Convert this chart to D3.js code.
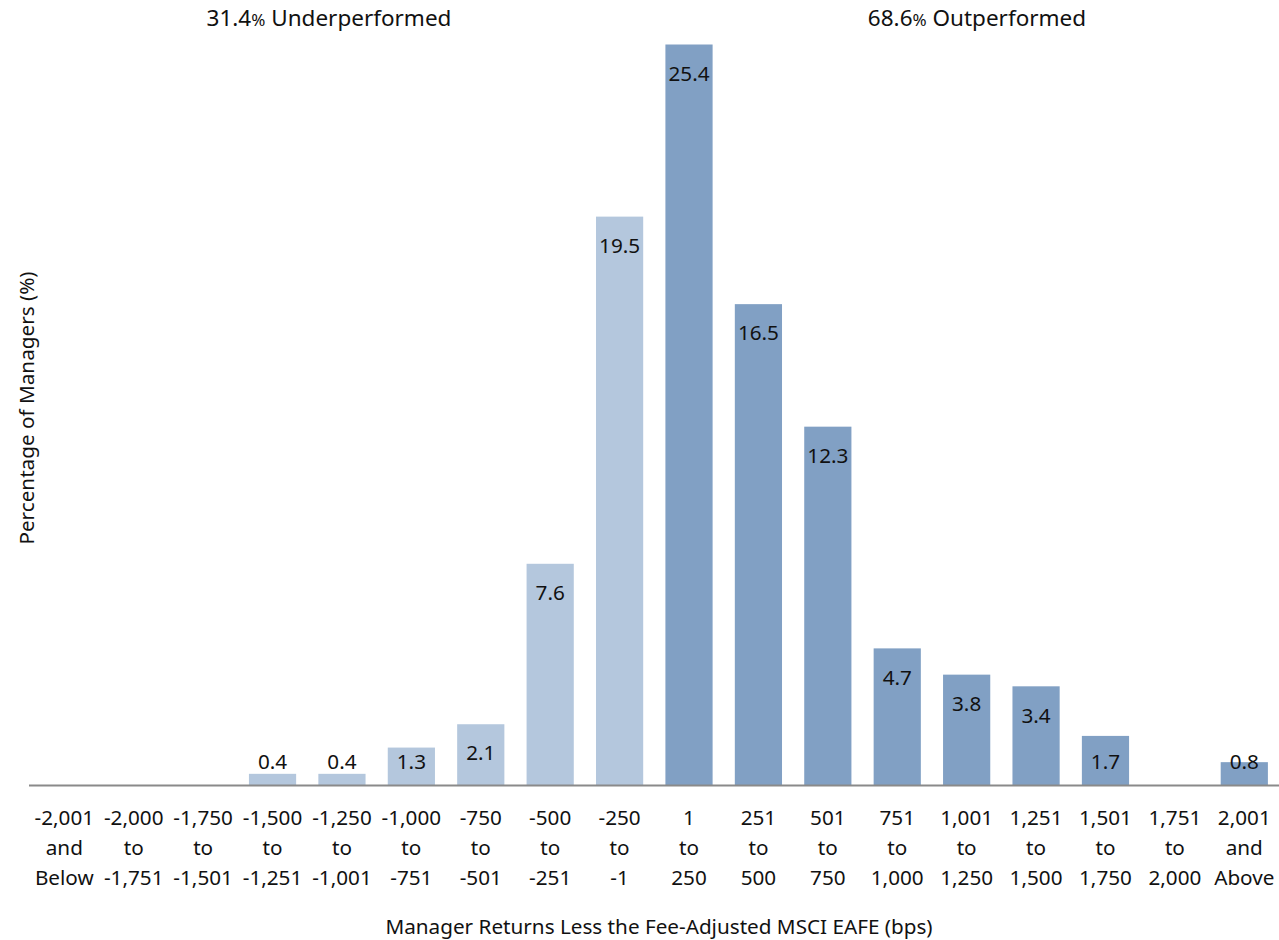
<!DOCTYPE html>
<html>
<head>
<meta charset="utf-8">
<script src="https://cdn.jsdelivr.net/npm/d3@7"></script>
<style>
  html, body { margin: 0; padding: 0; background: #fff; }
  svg text { font-family: "Noto Sans", "Open Sans", sans-serif; fill: #111; }
</style>
</head>
<body>
<svg id="chart" width="1279" height="940"></svg>
<script>
// Excess-return buckets (bps) and share of managers in each
const categories = [
  ["-2,001", "and", "Below"],
  ["-2,000", "to", "-1,751"],
  ["-1,750", "to", "-1,501"],
  ["-1,500", "to", "-1,251"],
  ["-1,250", "to", "-1,001"],
  ["-1,000", "to", "-751"],
  ["-750", "to", "-501"],
  ["-500", "to", "-251"],
  ["-250", "to", "-1"],
  ["1", "to", "250"],
  ["251", "to", "500"],
  ["501", "to", "750"],
  ["751", "to", "1,000"],
  ["1,001", "to", "1,250"],
  ["1,251", "to", "1,500"],
  ["1,501", "to", "1,750"],
  ["1,751", "to", "2,000"],
  ["2,001", "and", "Above"]
];
const values = [null, null, null, 0.4, 0.4, 1.3, 2.1, 7.6, 19.5, 25.4, 16.5, 12.3, 4.7, 3.8, 3.4, 1.7, null, 0.8];
const underperformed = { pct: "31.4", text: " Underperformed" };
const outperformed = { pct: "68.6", text: " Outperformed" };
const xTitle = "Manager Returns Less the Fee-Adjusted MSCI EAFE (bps)";
const yTitle = "Percentage of Managers (%)";

const svg = d3.select("#chart");
const baseY = 785.5;
const topY = 44.5;
const fs = 20.7;

const x = d3.scaleBand()
  .domain(d3.range(categories.length))
  .range([29.6, 1279])
  .paddingInner(0.32)
  .paddingOuter(0.16);

const y = d3.scaleLinear()
  .domain([0, 25.4])
  .range([baseY, topY]);

const lightBlue = "#b4c7dd";
const darkBlue = "#81a0c4";

const bars = svg.append("g");
categories.forEach((c, i) => {
  const v = values[i];
  if (v == null) return;
  bars.append("rect")
    .attr("x", x(i))
    .attr("y", y(v))
    .attr("width", x.bandwidth())
    .attr("height", y(0) - y(v))
    .attr("fill", i < 9 ? lightBlue : darkBlue);
  const ly = Math.min(y(v) + 29, y(0) - 24);
  bars.append("text")
    .attr("x", x(i) + x.bandwidth() / 2)
    .attr("y", ly)
    .attr("dy", "0.35em")
    .attr("text-anchor", "middle")
    .attr("font-size", fs)
    .text(v.toFixed(1));
});

// baseline axis
svg.append("line")
  .attr("x1", 29).attr("x2", 1279)
  .attr("y1", baseY).attr("y2", baseY)
  .attr("stroke", "#8a8a8a")
  .attr("stroke-width", 2);

// three-line category labels
const ticks = svg.append("g");
categories.forEach((c, i) => {
  const t = ticks.append("text")
    .attr("text-anchor", "middle")
    .attr("font-size", fs);
  c.forEach((line, k) => {
    t.append("tspan")
      .attr("x", x(i) + x.bandwidth() / 2)
      .attr("y", 818 + k * 30)
      .attr("dy", "0.35em")
      .text(line);
  });
});

// axis titles
svg.append("text")
  .attr("x", 659).attr("y", 927)
  .attr("dy", "0.35em")
  .attr("text-anchor", "middle")
  .attr("font-size", fs)
  .text(xTitle);

svg.append("text")
  .attr("transform", "translate(27,408) rotate(-90)")
  .attr("dy", "0.35em")
  .attr("text-anchor", "middle")
  .attr("font-size", fs)
  .text(yTitle);

// under/outperformance annotations
function note(cx, d) {
  const t = svg.append("text")
    .attr("x", cx).attr("y", 18)
    .attr("dy", "0.35em")
    .attr("text-anchor", "middle")
    .attr("font-size", 22.5);
  t.append("tspan").text(d.pct);
  t.append("tspan").attr("font-size", 17).text("%");
  t.append("tspan").text(d.text);
}
note(329, underperformed);
note(977, outperformed);
</script>
</body>
</html>
